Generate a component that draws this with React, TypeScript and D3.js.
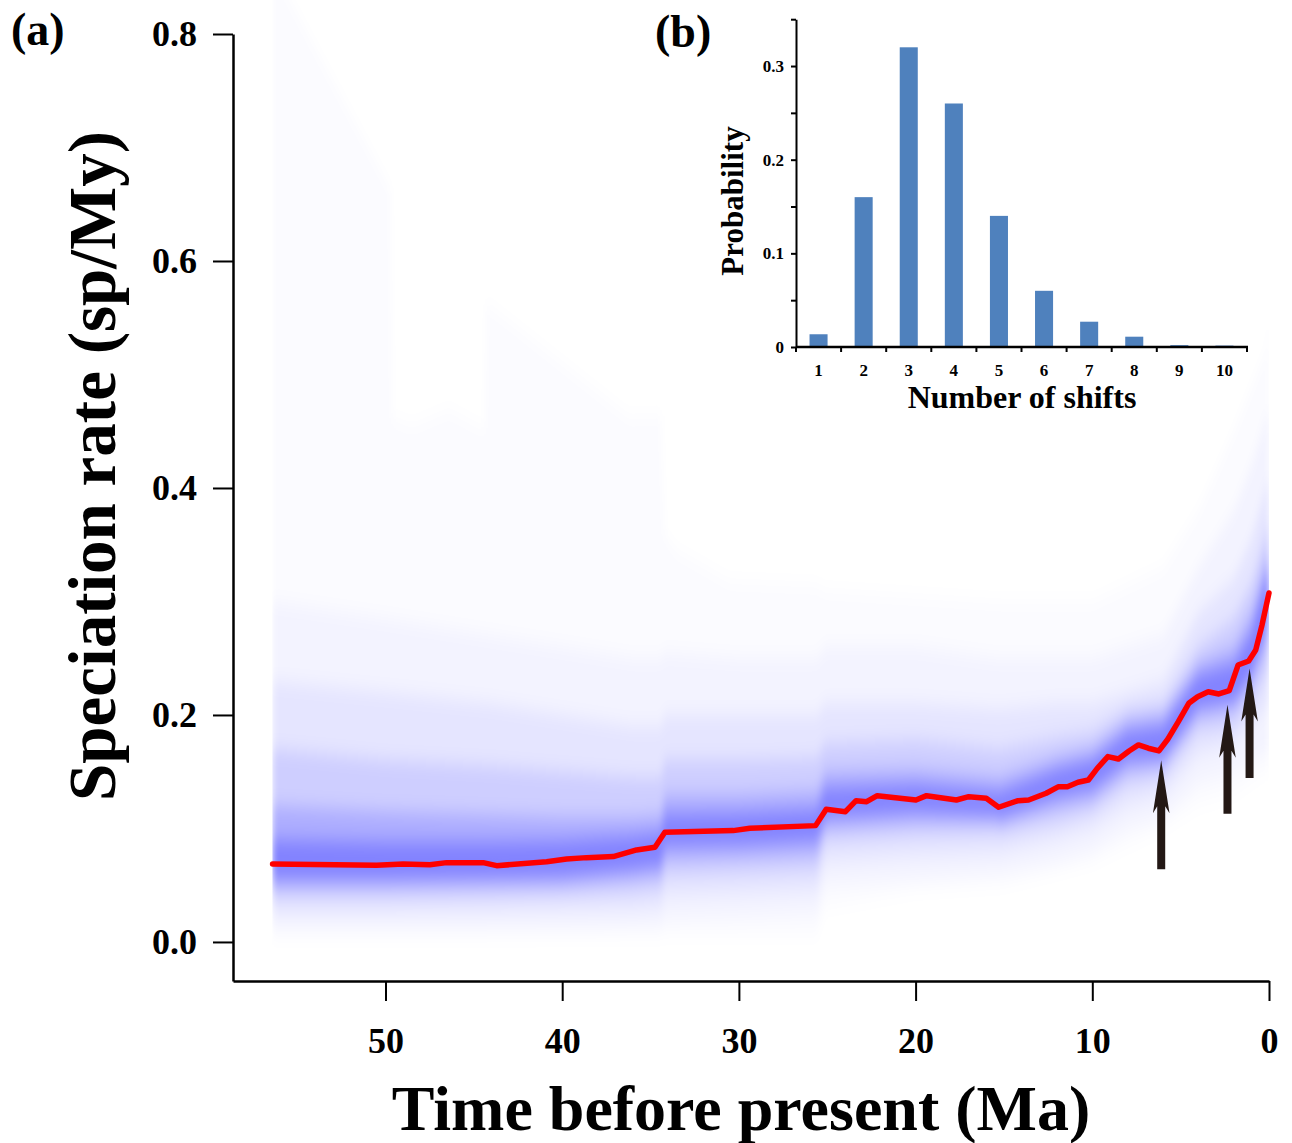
import { useRef, useEffect } from 'react';
import * as d3 from 'd3';

const W = 1292;
const H = 1143;
const FONT = '"Liberation Serif", "Times New Roman", serif';

// mean speciation rate through time (Ma before present)
const rateTimes = [56.39, 50.51, 49.0, 47.49, 46.55, 44.47, 43.71, 40.88, 39.75, 38.62, 37.11, 35.79, 34.75, 34.19, 30.32, 29.38, 25.66, 25.06, 23.97, 23.37, 22.77, 22.17, 19.98, 19.38, 17.69, 16.99, 16.0, 15.3, 14.2, 13.6, 12.61, 11.91, 11.41, 10.81, 10.22, 9.72, 9.12, 8.52, 7.92, 7.39, 6.83, 6.23, 5.73, 5.13, 4.54, 4.04, 3.44, 2.84, 2.25, 1.75, 1.15, 0.75, 0.4, 0];
const rateValues = [0.0687, 0.0676, 0.0687, 0.0681, 0.0699, 0.0699, 0.0672, 0.0707, 0.0731, 0.0743, 0.0752, 0.0811, 0.0834, 0.0966, 0.0981, 0.1002, 0.1025, 0.1169, 0.1148, 0.1245, 0.1236, 0.1289, 0.1251, 0.1289, 0.1251, 0.128, 0.1266, 0.1187, 0.1245, 0.1251, 0.131, 0.1368, 0.1368, 0.1407, 0.1427, 0.153, 0.1633, 0.1612, 0.1683, 0.1736, 0.1707, 0.1683, 0.1786, 0.1941, 0.2103, 0.2161, 0.2205, 0.2185, 0.2214, 0.244, 0.2476, 0.2573, 0.279, 0.3075];

// outermost (faintest) envelope of the rate density
const outerTimes = [56.4, 55.4, 49.7, 49.6, 48.5, 46.4, 44.4, 44.3, 36.2, 34.4, 34.2, 33.5, 30.5, 25.6, 25.1, 20, 15, 10, 6, 4, 2, 0.2, 0];
const outerUpper = [0.86, 0.83, 0.663, 0.462, 0.455, 0.469, 0.452, 0.563, 0.463, 0.464, 0.36, 0.345, 0.318, 0.315, 0.31, 0.305, 0.3, 0.3, 0.33, 0.38, 0.45, 0.52, 0.55];
const outerLower = [0.004, 0.004, 0.004, 0.004, 0.004, 0.004, 0.004, 0.004, 0.005, 0.005, 0.006, 0.006, 0.006, 0.006, 0.03, 0.045, 0.05, 0.07, 0.1, 0.12, 0.13, 0.15, 0.15];

// inner density envelopes, widest to narrowest
const bandTimes = [56.4, 50, 44, 40, 36, 34.4, 34.2, 30, 25.6, 25.1, 20, 15.4, 15.2, 12, 10, 8, 6, 4, 2, 1, 0];
const bandBUpper = [0.3, 0.285, 0.27, 0.26, 0.25, 0.25, 0.255, 0.25, 0.25, 0.26, 0.26, 0.25, 0.25, 0.25, 0.25, 0.26, 0.27, 0.33, 0.38, 0.42, 0.47];
const bandBLower = [0.012, 0.012, 0.012, 0.012, 0.013, 0.014, 0.02, 0.022, 0.025, 0.05, 0.055, 0.06, 0.06, 0.07, 0.08, 0.1, 0.11, 0.14, 0.15, 0.16, 0.17];
const bandCUpper = [0.23, 0.22, 0.21, 0.2, 0.19, 0.19, 0.2, 0.2, 0.2, 0.21, 0.21, 0.205, 0.205, 0.21, 0.21, 0.22, 0.23, 0.29, 0.32, 0.355, 0.41];
const bandCLower = [0.025, 0.025, 0.026, 0.027, 0.028, 0.03, 0.04, 0.042, 0.045, 0.07, 0.075, 0.078, 0.078, 0.09, 0.1, 0.12, 0.13, 0.165, 0.175, 0.19, 0.21];
const bandDUpper = [0.17, 0.16, 0.155, 0.15, 0.145, 0.145, 0.16, 0.16, 0.162, 0.175, 0.178, 0.17, 0.17, 0.18, 0.185, 0.205, 0.21, 0.26, 0.285, 0.315, 0.37];
const bandDLower = [0.038, 0.038, 0.039, 0.04, 0.043, 0.046, 0.058, 0.06, 0.063, 0.088, 0.093, 0.095, 0.094, 0.105, 0.115, 0.138, 0.145, 0.185, 0.19, 0.21, 0.24];
const bandEUpper = [0.12, 0.115, 0.112, 0.11, 0.11, 0.112, 0.13, 0.13, 0.133, 0.15, 0.152, 0.145, 0.145, 0.162, 0.17, 0.195, 0.2, 0.245, 0.26, 0.29, 0.345];
const bandELower = [0.048, 0.048, 0.049, 0.05, 0.055, 0.058, 0.072, 0.074, 0.077, 0.1, 0.105, 0.105, 0.104, 0.118, 0.125, 0.15, 0.155, 0.198, 0.205, 0.225, 0.265];
const bandFUpper = [0.09, 0.088, 0.088, 0.089, 0.093, 0.096, 0.112, 0.113, 0.116, 0.135, 0.138, 0.132, 0.132, 0.152, 0.16, 0.185, 0.19, 0.235, 0.245, 0.272, 0.33];
const bandFLower = [0.056, 0.056, 0.057, 0.058, 0.064, 0.068, 0.085, 0.086, 0.09, 0.11, 0.115, 0.112, 0.11, 0.128, 0.135, 0.16, 0.163, 0.207, 0.213, 0.237, 0.285];

// rate shift arrows
const shiftTimes = [6.1, 2.35, 1.1];
const arrowTips = [0.16, 0.209, 0.241];
const arrowTails = [0.064, 0.113, 0.1445];

const mainXTicks = [50, 40, 30, 20, 10, 0];
const mainYTicks = [0, 0.2, 0.4, 0.6, 0.8];

// inset: posterior of number of shifts
const shiftCounts = ['1', '2', '3', '4', '5', '6', '7', '8', '9', '10'];
const shiftProbs = [0.0136, 0.16, 0.32, 0.26, 0.14, 0.06, 0.027, 0.011, 0.002, 0.0015];
const insetYTicks = [0, 0.05, 0.1, 0.15, 0.2, 0.25, 0.3, 0.35];
const insetYLabels = ['0', '', '0.1', '', '0.2', '', '0.3', ''];

const App = () => {
    const ref = useRef(null);

    useEffect(() => {
        const svg = d3.select(ref.current);
        svg.selectAll('*').remove();

        const x = d3.scaleLinear().domain([58.63, 0]).range([233, 1269]);
        const y = d3.scaleLinear().domain([-0.0344, 0.8]).range([981, 34]);

        const defs = svg.append('defs');
        defs.append('filter')
            .attr('id', 'soft')
            .attr('x', '-5%').attr('y', '-20%').attr('width', '110%').attr('height', '140%')
            .append('feGaussianBlur')
            .attr('stdDeviation', '3 9');
        defs.append('clipPath')
            .attr('id', 'dataClip')
            .append('rect')
            .attr('x', x(56.4)).attr('y', 0)
            .attr('width', x(0) - x(56.4)).attr('height', y(-0.0344));

        // density
        const bands = [
            { times: outerTimes, hi: outerUpper, lo: outerLower, op: 0.016 },
            { times: bandTimes, hi: bandBUpper, lo: bandBLower, op: 0.035 },
            { times: bandTimes, hi: bandCUpper, lo: bandCLower, op: 0.06 },
            { times: bandTimes, hi: bandDUpper, lo: bandDLower, op: 0.1 },
            { times: bandTimes, hi: bandEUpper, lo: bandELower, op: 0.16 },
            { times: bandTimes, hi: bandFUpper, lo: bandFLower, op: 0.25 },
        ];
        const area = d3.area()
            .x(d => x(d[0]))
            .y0(d => y(d[1]))
            .y1(d => y(d[2]));
        const dens = svg.append('g').attr('clip-path', 'url(#dataClip)')
            .append('g').attr('filter', 'url(#soft)');
        bands.forEach(b => {
            dens.append('path')
                .attr('d', area(b.times.map((t, i) => [t, b.lo[i], b.hi[i]])))
                .attr('fill', '#0000ff')
                .attr('fill-opacity', b.op);
        });

        // mean rate
        const line = d3.line().x(d => x(d[0])).y(d => y(d[1]));
        svg.append('path')
            .attr('d', line(rateTimes.map((t, i) => [t, rateValues[i]])))
            .attr('fill', 'none')
            .attr('stroke', '#ff0000')
            .attr('stroke-width', 5.5)
            .attr('stroke-linejoin', 'round')
            .attr('stroke-linecap', 'round');

        // arrows
        shiftTimes.forEach((t, i) => {
            const cx = x(t), tip = y(arrowTips[i]), tail = y(arrowTails[i]);
            const p = d3.path();
            p.moveTo(cx, tip);
            p.lineTo(cx + 8.3, tip + 53);
            p.lineTo(cx + 4, tip + 46);
            p.lineTo(cx + 4, tail);
            p.lineTo(cx - 4, tail);
            p.lineTo(cx - 4, tip + 46);
            p.lineTo(cx - 8.3, tip + 53);
            p.closePath();
            svg.append('path').attr('d', p.toString()).attr('fill', '#231815');
        });

        // main axes
        const styleAxis = (g, size) => {
            g.attr('font-family', FONT).attr('font-size', size).attr('font-weight', 'bold');
            g.selectAll('text').attr('fill', '#000');
            g.selectAll('line').attr('stroke', '#000').attr('stroke-width', 2);
            g.select('.domain').attr('stroke', '#000').attr('stroke-width', 2.5);
        };
        svg.append('g')
            .attr('transform', `translate(0, ${y(-0.0344)})`)
            .call(d3.axisBottom(x).tickValues(mainXTicks).tickSize(20).tickSizeOuter(0).tickPadding(26).tickFormat(d3.format('d')))
            .call(g => styleAxis(g, 36));
        svg.append('g')
            .attr('transform', `translate(${x(58.63)}, 0)`)
            .call(d3.axisLeft(y).tickValues(mainYTicks).tickSize(20).tickSizeOuter(0).tickPadding(16).tickFormat(d3.format('.1f')))
            .call(g => styleAxis(g, 36));

        svg.append('text')
            .attr('x', 741).attr('y', 1130)
            .attr('text-anchor', 'middle')
            .attr('font-family', FONT).attr('font-weight', 'bold').attr('font-size', 64)
            .text('Time before present (Ma)');
        svg.append('text')
            .attr('transform', 'translate(115, 466) rotate(-90)')
            .attr('text-anchor', 'middle')
            .attr('font-family', FONT).attr('font-weight', 'bold').attr('font-size', 67)
            .text('Speciation rate (sp/My)');
        svg.append('text')
            .attr('x', 11).attr('y', 45)
            .attr('font-family', FONT).attr('font-weight', 'bold').attr('font-size', 46)
            .text('(a)');
        svg.append('text')
            .attr('x', 655).attr('y', 47)
            .attr('font-family', FONT).attr('font-weight', 'bold').attr('font-size', 46)
            .text('(b)');

        // inset bar chart
        const bx = d3.scaleBand().domain(shiftCounts).range([796, 1247]).paddingInner(0.6).paddingOuter(0.3);
        const by = d3.scaleLinear().domain([0, 0.35]).range([347, 19.2]);
        const inset = svg.append('g');
        inset.selectAll('rect')
            .data(shiftProbs)
            .enter()
            .append('rect')
            .attr('x', (d, i) => bx(shiftCounts[i]))
            .attr('width', bx.bandwidth())
            .attr('y', d => by(d))
            .attr('height', d => by(0) - by(d))
            .attr('fill', '#4f81bd');

        const bandEdges = [796, ...shiftCounts.map(c => bx(c) + bx.bandwidth() / 2 + bx.step() / 2)];
        const ix = inset.append('g').attr('transform', `translate(0, ${by(0)})`);
        ix.append('line').attr('x1', 796).attr('x2', 1248).attr('stroke', '#000').attr('stroke-width', 2.5);
        ix.selectAll('.edge').data(bandEdges).enter().append('line')
            .attr('x1', d => d).attr('x2', d => d).attr('y1', 0).attr('y2', 5)
            .attr('stroke', '#000').attr('stroke-width', 2);
        ix.selectAll('text').data(shiftCounts).enter().append('text')
            .attr('x', d => bx(d) + bx.bandwidth() / 2).attr('y', 29)
            .attr('text-anchor', 'middle')
            .attr('font-family', FONT).attr('font-weight', 'bold').attr('font-size', 17)
            .text(d => d);

        inset.append('g')
            .attr('transform', 'translate(796, 0)')
            .call(d3.axisLeft(by).tickValues(insetYTicks).tickSize(5).tickSizeOuter(0).tickPadding(7).tickFormat((d, i) => insetYLabels[i]))
            .call(g => styleAxis(g, 17))
            .call(g => g.select('.domain').attr('stroke-width', 2));

        inset.append('text')
            .attr('x', 1022).attr('y', 408)
            .attr('text-anchor', 'middle')
            .attr('font-family', FONT).attr('font-weight', 'bold').attr('font-size', 32)
            .text('Number of shifts');
        inset.append('text')
            .attr('transform', 'translate(743, 201) rotate(-90)')
            .attr('text-anchor', 'middle')
            .attr('font-family', FONT).attr('font-weight', 'bold').attr('font-size', 31)
            .text('Probability');
    }, []);

    return (
        <svg
            ref={ref}
            width={W}
            height={H}
            style={{ position: 'absolute', left: 0, top: 0, background: '#fff' }}
        ></svg>
    );
};

export default App;
